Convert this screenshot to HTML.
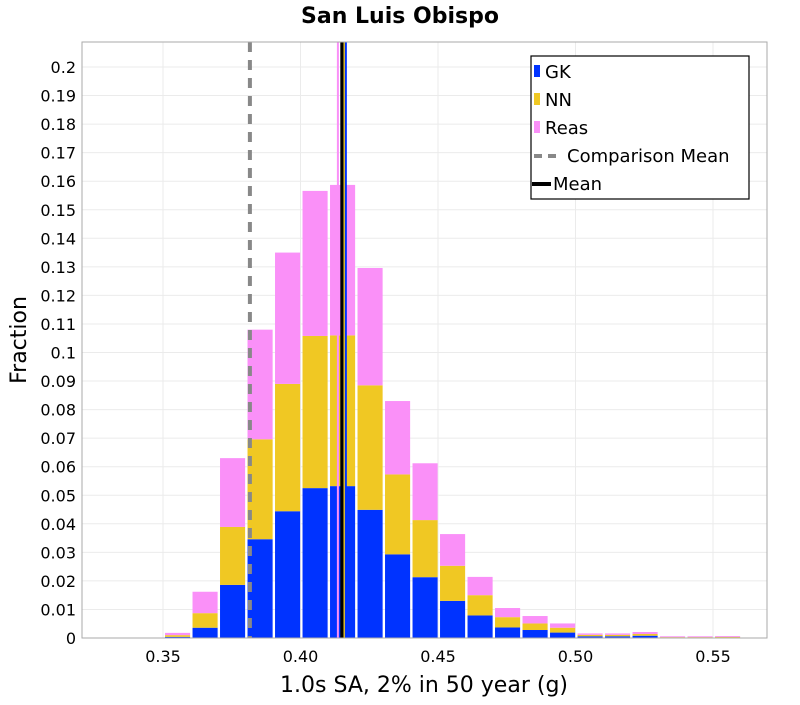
<!DOCTYPE html>
<html><head><meta charset="utf-8"><style>
body{margin:0;background:#fff;font-family:"Liberation Sans","DejaVu Sans",sans-serif}
</style></head><body>
<svg width="800" height="700" xmlns="http://www.w3.org/2000/svg" font-family="DejaVu Sans, Liberation Sans, sans-serif">
<text x="400" y="23" text-anchor="middle" font-size="22" font-weight="bold">San Luis Obispo</text>
<g id="grid"></g>
<g id="bars"></g>
<g id="lines"></g>
<rect x="82" y="42" width="685" height="596" fill="none" stroke="#aaa"/>
<g id="yticks" font-size="16"></g>
<g id="xticks" font-size="16"></g>
<text x="424" y="692" text-anchor="middle" font-size="22">1.0s SA, 2% in 50 year (g)</text>
<text x="26" y="340" text-anchor="middle" font-size="22" transform="rotate(-90 26 340)">Fraction</text>
<g>
<rect x="531" y="56" width="218" height="143" fill="#fff" stroke="#000" stroke-width="1.2"/>
<rect x="534" y="65" width="6" height="12" fill="#0033ff"/><text x="545" y="78" font-size="18">GK</text>
<rect x="534" y="93" width="6" height="12" fill="#f0c823"/><text x="545" y="106" font-size="18">NN</text>
<rect x="534" y="121" width="6" height="12" fill="#fa90f8"/><text x="545" y="134" font-size="18">Reas</text>
<line x1="534" y1="156" x2="561" y2="156" stroke="#888" stroke-width="4" stroke-dasharray="8,6"/><text x="567" y="162" font-size="18">Comparison Mean</text>
<line x1="532" y1="184" x2="551" y2="184" stroke="#000" stroke-width="4"/><text x="553" y="190" font-size="18">Mean</text>
</g>
</svg>
<script>
const binCenters=[0.3553,0.3653,0.3753,0.3853,0.3953,0.4053,0.4153,0.4253,0.4353,0.4453,0.4553,0.4653,0.4753,0.4853,0.4953,0.5053,0.5153,0.5253,0.5353,0.5453,0.5553];
const gkValues=[0.0004,0.0036,0.0186,0.0346,0.0444,0.0525,0.0532,0.0449,0.0293,0.0213,0.0130,0.0079,0.0037,0.0028,0.0019,0.0006,0.0006,0.0008,0.0001,0.0001,0.0002];
const nnValues=[0.0006,0.0051,0.0203,0.0350,0.0446,0.0533,0.0528,0.0436,0.0280,0.0200,0.0123,0.0071,0.0036,0.0023,0.0017,0.0005,0.0005,0.0006,0.0002,0.0002,0.0002];
const reasValues=[0.0008,0.0075,0.0241,0.0384,0.0460,0.0508,0.0527,0.0411,0.0257,0.0199,0.0111,0.0064,0.0032,0.0026,0.0015,0.0005,0.0005,0.0007,0.0003,0.0003,0.0003];
const meanLines=[{v:0.4136,c:"#fa90f8"},{v:0.4152,c:"#000"},{v:0.4160,c:"#f0c823"},{v:0.4165,c:"#0033ff"}];
const comparisonMean=0.3816;
const yTickValues=[0,0.01,0.02,0.03,0.04,0.05,0.06,0.07,0.08,0.09,0.1,0.11,0.12,0.13,0.14,0.15,0.16,0.17,0.18,0.19,0.2];
const yTickLabels=["0","0.01","0.02","0.03","0.04","0.05","0.06","0.07","0.08","0.09","0.1","0.11","0.12","0.13","0.14","0.15","0.16","0.17","0.18","0.19","0.2"];
const xTickValues=[0.35,0.40,0.45,0.50,0.55];
const xTickLabels=["0.35","0.40","0.45","0.50","0.55"];
const binWidth=0.01;
const NS="http://www.w3.org/2000/svg";
const X=v=>163+(v-0.35)*2750;
const Y=v=>638-v*2855;
function mk(tag,attrs,parent){const e=document.createElementNS(NS,tag);for(const k in attrs)e.setAttribute(k,attrs[k]);document.getElementById(parent).appendChild(e);return e;}
yTickValues.forEach((v,i)=>{
  const g=mk("line",{x1:82,x2:767,y1:Y(v),y2:Y(v),stroke:"#ebebeb"},"grid");
  
  
  const t=mk("text",{x:76,y:Y(v)+6,"text-anchor":"end"},"yticks");t.textContent=yTickLabels[i];
  
  
});
xTickValues.forEach((v,i)=>{
  const g=mk("line",{x1:X(v),x2:X(v),y1:42,y2:638,stroke:"#ebebeb"},"grid");
  
  
  const t=mk("text",{x:X(v),y:662,"text-anchor":"middle"},"xticks");t.textContent=xTickLabels[i];
  
  
});
binCenters.forEach((c,i)=>{
  const x=X(c-binWidth/2)+1.2, w=binWidth*2750-2.4;
  const segs=[[gkValues[i],"#0033ff","gk"],[nnValues[i],"#f0c823","nn"],[reasValues[i],"#fa90f8","reas"]];
  let base=0;
  segs.forEach(s=>{
    const r=mk("rect",{x:x,width:w,y:Y(base+s[0]),height:Y(base)-Y(base+s[0]),fill:s[1]},"bars");
    
    
    base+=s[0];
  });
});
const cm=mk("line",{x1:X(comparisonMean),x2:X(comparisonMean),y1:42,y2:638,stroke:"#888","stroke-width":4,"stroke-dasharray":"10,8"},"lines");


meanLines.forEach(m=>{
  const l=mk("line",{x1:X(m.v),x2:X(m.v),y1:42,y2:638,stroke:m.c,"stroke-width":m.c==="#000"?4:2},"lines");
  
  
});
</script>
</body></html>
